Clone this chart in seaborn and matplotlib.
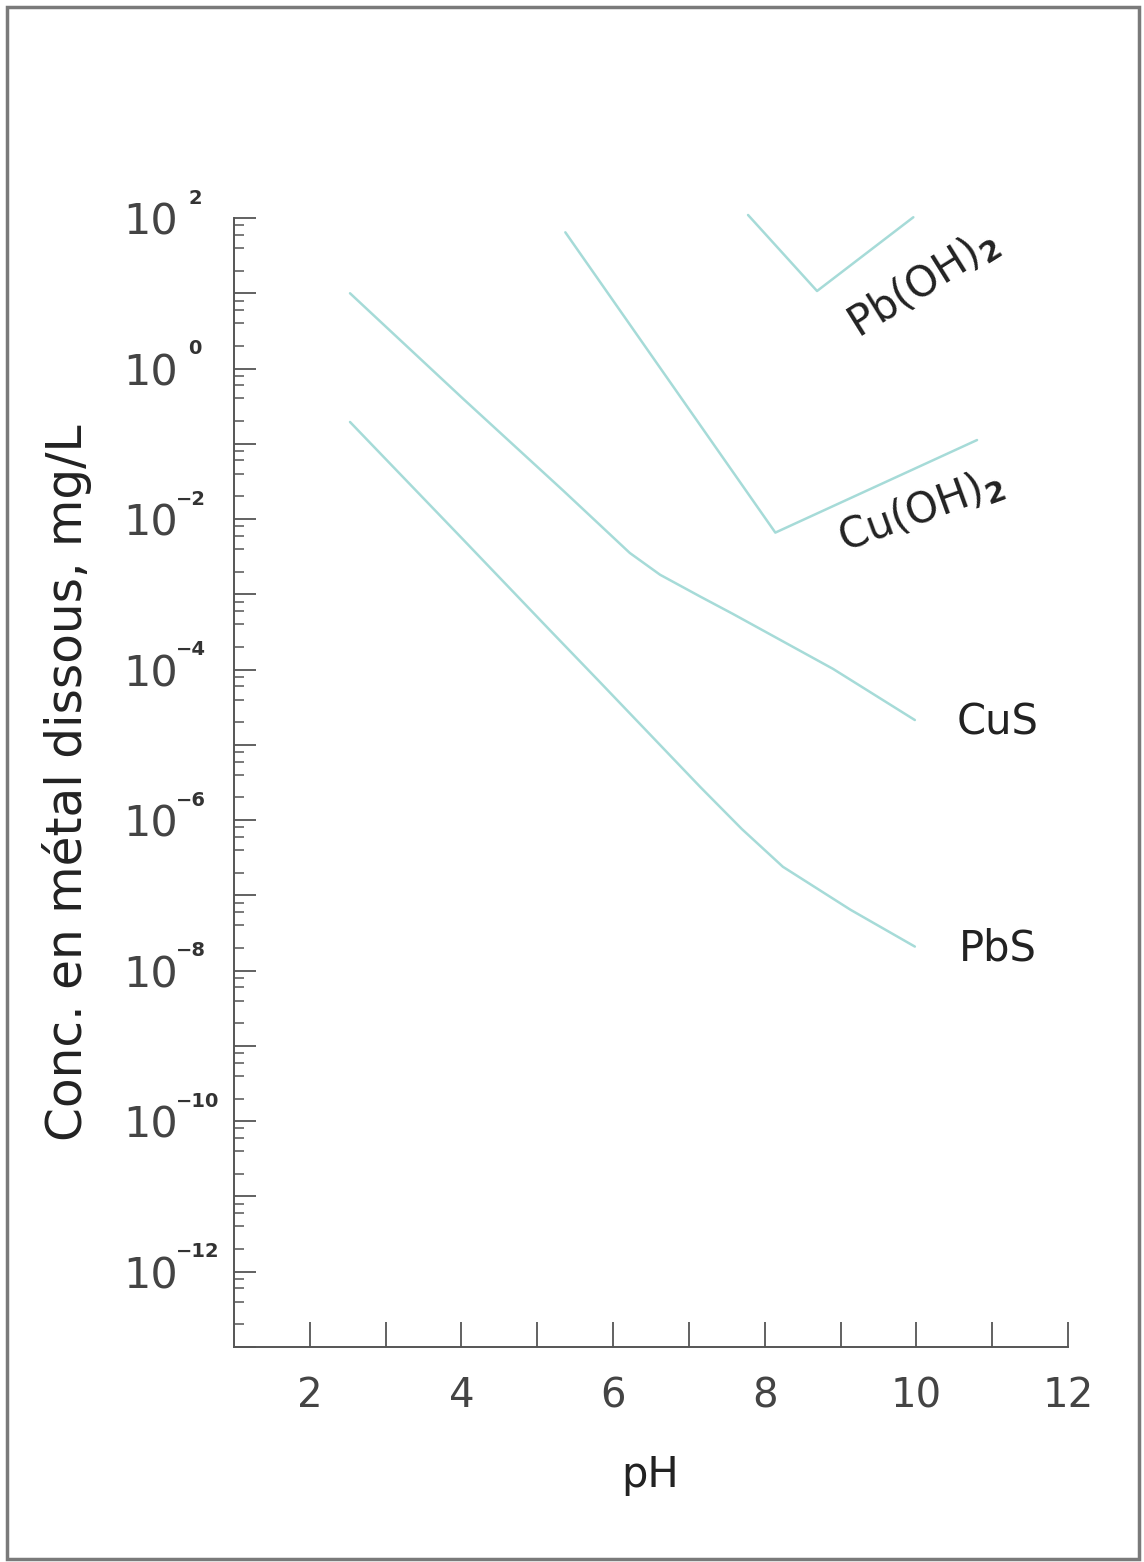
import numpy as np
import pandas as pd
import matplotlib
matplotlib.use("Agg")
import matplotlib.pyplot as plt
from matplotlib.patches import Rectangle
from matplotlib.ticker import FixedLocator, NullFormatter
import seaborn as sns

# ---- data (pH, log10 of dissolved metal conc. mg/L) ----
cus_ph = [2.53, 4.02, 5.34, 6.22, 6.62, 7.15, 7.58, 8.90, 9.98]
cus_log = [1.00, -0.40, -1.62, -2.45, -2.74, -3.03, -3.26, -3.99, -4.67]

pbs_ph = [2.53, 4.02, 5.17, 5.83, 7.15, 7.70, 8.24, 9.13, 9.98]
pbs_log = [-0.71, -2.27, -3.48, -4.17, -5.56, -6.12, -6.62, -7.19, -7.68]

cuoh_ph = [5.37, 8.14, 10.80]
cuoh_log = [1.81, -2.18, -0.95]

pboh_ph = [7.78, 8.69, 9.96]
pboh_log = [2.04, 1.03, 2.01]

series_names = ["CuS", "PbS", "Cu(OH)2", "Pb(OH)2"]
x_ticks = [2, 3, 4, 5, 6, 7, 8, 9, 10, 11, 12]
x_labels = ["2", "", "4", "", "6", "", "8", "", "10", "", "12"]
y_exponents = list(range(-13, 3))
y_label_exps = [2, 0, -2, -4, -6, -8, -10, -12]

frames = []
for name, ph, lg in zip(series_names,
                        [cus_ph, pbs_ph, cuoh_ph, pboh_ph],
                        [cus_log, pbs_log, cuoh_log, pboh_log]):
    frames.append(pd.DataFrame({"pH": ph, "conc": 10.0 ** np.array(lg),
                                "series": name}))
df = pd.concat(frames, ignore_index=True)

sns.set_style("ticks")
plt.rcParams["font.family"] = ["DejaVu Sans"]

fig = plt.figure(figsize=(11.44, 15.62), dpi=100)
ax = fig.add_axes([234 / 1144, 1 - 1347 / 1562, (1068 - 234) / 1144, (1347 - 218) / 1562])

line_color = "#a6dbd8"
sns.lineplot(data=df, x="pH", y="conc", hue="series", units="series",
             estimator=None, sort=False, palette={n: line_color for n in series_names},
             linewidth=1.8, legend=False, ax=ax, clip_on=False)

ax.set_yscale("log")
ax.set_xlim(1, 12)
ax.set_ylim(1e-13, 1e2)

# x ticks
ax.set_xticks(x_ticks)
ax.set_xticklabels(x_labels)
ax.tick_params(axis="x", direction="in", length=18, width=1.3, color="#555555",
               labelsize=29, labelcolor="#444444", pad=21)

# y ticks: "10" as tick label, exponent as small separate text
ax.yaxis.set_major_locator(FixedLocator([10.0 ** e for e in y_exponents]))
ax.set_yticklabels(["10" if e in y_label_exps else "" for e in y_exponents])
minor = [m * 10.0 ** e for e in range(-13, 2) for m in (2, 4, 6, 8)]
ax.yaxis.set_minor_locator(FixedLocator(minor))
ax.yaxis.set_minor_formatter(NullFormatter())
ax.tick_params(axis="y", which="major", direction="in", length=16, width=1.3,
               color="#555555", labelsize=31, labelcolor="#444444", pad=80)
ax.tick_params(axis="y", which="minor", direction="in", length=7, width=1.1,
               color="#555555")
for lbl in ax.get_yticklabels():
    lbl.set_horizontalalignment("left")

px = 72.0 / 100.0  # points per pixel
for e in y_label_exps:
    txt = ("\u2212%d" % -e) if e < 0 else str(e)
    xoff = (176 - 234) if e < 0 else (188 - 234)
    ax.annotate(txt, xy=(0, 10.0 ** e), xycoords=ax.get_yaxis_transform(),
                xytext=(xoff * px, 20 * px), textcoords="offset points",
                ha="left", va="center", fontsize=14, fontweight="semibold",
                color="#333333", annotation_clip=False)

for side in ["top", "right"]:
    ax.spines[side].set_visible(False)
for side in ["left", "bottom"]:
    ax.spines[side].set_color("#555555")
    ax.spines[side].set_linewidth(1.4)

ax.set_xlabel("pH", fontsize=30, color="#222222")
ax.xaxis.set_label_coords(0.499, -0.095)
ax.set_ylabel("Conc. en métal dissous, mg/L", fontsize=35, color="#222222")
ax.yaxis.set_label_coords(-0.17, 0.5)

# curve labels
ax.text(10.08, 13.8, r"Pb(OH)$_{\mathbf{2}}$", fontsize=30, rotation=32,
        ha="center", va="center", color="#222222")
ax.text(10.05, 1.3e-2, r"Cu(OH)$_{\mathbf{2}}$", fontsize=30, rotation=20,
        ha="center", va="center", color="#222222")
ax.text(11.07, 2.0e-5, "CuS", fontsize=30, ha="center", va="center", color="#222222")
ax.text(11.07, 2.0e-8, "PbS", fontsize=30, ha="center", va="center", color="#222222")

# figure frame
fig.patches.append(Rectangle((7 / 1144, 3 / 1562), 1132 / 1144, 1552 / 1562,
                             transform=fig.transFigure, fill=False,
                             edgecolor="#7a7a7a", linewidth=2.5))

fig.savefig("out.png", dpi=100, facecolor="white")
